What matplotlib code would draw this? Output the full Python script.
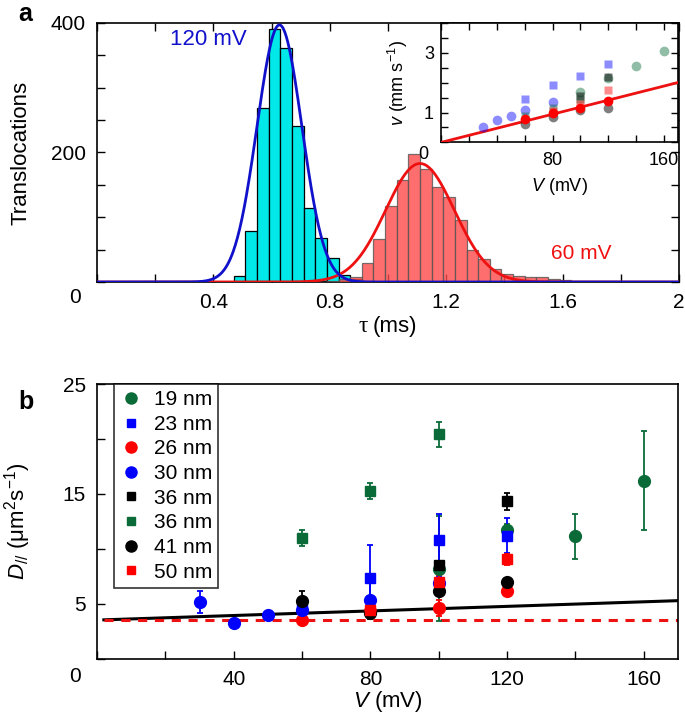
import numpy as np
import matplotlib
matplotlib.use('Agg')
import matplotlib.pyplot as plt
from matplotlib.lines import Line2D
from matplotlib.ticker import MultipleLocator, FixedLocator

plt.rcParams['font.family'] = ['Liberation Sans', 'DejaVu Sans']
plt.rcParams['mathtext.fontset'] = 'custom'
plt.rcParams['mathtext.rm'] = 'Liberation Sans'
plt.rcParams['mathtext.it'] = 'Liberation Sans:italic'

# ---- panel a: dwell time histograms (bin width 0.04 ms) ----
bin_w = 0.04
left_120 = [0.47, 0.51, 0.55, 0.59, 0.63, 0.67, 0.71, 0.75, 0.79, 0.83, 0.87]
count_120 = [9, 79, 268, 390, 361, 241, 115, 68, 37, 11, 4]
left_60 = [0.79, 0.83, 0.87, 0.91, 0.95, 0.99, 1.03, 1.07, 1.11, 1.15, 1.19, 1.23, 1.27,
           1.31, 1.35, 1.39, 1.43, 1.47, 1.51, 1.55, 1.59, 1.63, 1.67, 1.71, 1.75]
count_60 = [2, 5, 8, 30, 66, 118, 157, 198, 175, 147, 131, 96, 49,
            35, 20, 12, 9, 8, 7, 4, 3, 2, 2, 1, 1]
# gaussian fits: (amplitude, centre, width)
fit_120 = (397, 0.627, 0.077)
fit_60 = (183, 1.11, 0.118)

# inset: velocity vs voltage
ins_series = {
    '19 nm':  ([100, 120, 140, 160], [1.68, 2.15, 2.55, 3.05]),
    '23 nm':  ([60, 80, 100, 120], [1.46, 1.92, 2.22, 2.64]),
    '30 nm':  ([30, 40, 50, 60, 80], [0.50, 0.75, 0.90, 1.09, 1.37]),
    '36 nm g': ([60, 80, 100], [0.90, 1.15, 1.47]),
    '36 nm k': ([100, 120], [1.55, 2.20]),
    '41 nm':  ([60, 80, 100, 120], [0.62, 0.85, 1.08, 1.14]),
    '50 nm':  ([80, 100, 120], [1.05, 1.30, 1.77]),
    '26 nm':  ([60, 80, 100, 120], [0.78, 0.99, 1.14, 1.39]),
}
ins_fit_slope = 0.0118

# ---- panel b: diffusion coefficient vs voltage ----
labels_b = ['19 nm', '23 nm', '26 nm', '30 nm', '36 nm', '36 nm', '41 nm', '50 nm']
colors_b = ['#0b6b38', '#0000ff', '#ff0000', '#0000ff', '#000000', '#0b6b38', '#000000', '#ff0000']
markers_b = ['o', 's', 'o', 'o', 's', 's', 'o', 's']
V_b = [[100, 120, 140, 160],
       [60, 80, 100, 120],
       [60, 80, 100, 120],
       [30, 40, 50, 60, 80, 100],
       [100, 120],
       [60, 80, 100],
       [60, 80, 100, 120],
       [80, 100, 120]]
D_b = [[8.18, 11.67, 11.12, 16.18],
       [4.5, 7.33, 10.82, 11.2],
       [3.55, 4.3, 4.6, 6.12],
       [5.15, 3.24, 4.0, 4.4, 5.36, 6.88],
       [8.48, 14.3],
       [10.97, 15.25, 20.43],
       [5.27, 4.1, 6.12, 6.97],
       [4.4, 7.0, 9.06]]
err_b = [[4.8, 0.6, 2.06, 4.5],
         [0.3, 3.0, 2.3, 1.6],
         [0.2, 0.4, 0.7, 0.2],
         [1.0, 0.2, 0.35, 0.5, 1.6, 0.6],
         [0.4, 0.75],
         [0.75, 0.7, 1.15],
         [0.85, 0.5, 0.3, 0.3],
         [0.6, 0.6, 0.5]]
bulk_D = 3.5
fit_D_slope = 0.0104

W, H = 685, 720
fig = plt.figure(figsize=(W / 100, H / 100), dpi=100)

def box(l, t, r, b):
    return [l / W, 1 - b / H, (r - l) / W, (b - t) / H]

fs = 15

# ================= panel a =================
ax = fig.add_axes(box(97, 23, 679, 282))
ax.bar(left_120, count_120, width=bin_w, align='edge', color='#00e8e8',
       edgecolor='black', linewidth=0.9, zorder=2)
ax.bar(left_60, count_60, width=bin_w, align='edge', color='#ff4a4a', alpha=0.8,
       edgecolor='#555555', linewidth=0.9, zorder=3)
t = np.linspace(0, 2, 800)
for (a, m, s), c in [(fit_60, '#ee1111'), (fit_120, '#1111cc')]:
    ax.plot(t, a * np.exp(-0.5 * ((t - m) / s) ** 2), color=c, lw=2, zorder=4)
ax.set_xlim(0, 2)
ax.set_ylim(0, 400)
ax.xaxis.set_major_locator(FixedLocator([0.4, 0.8, 1.2, 1.6, 2.0]))
ax.set_xticklabels(['0.4', '0.8', '1.2', '1.6', '2'])
ax.xaxis.set_minor_locator(MultipleLocator(0.2))
ax.yaxis.set_major_locator(FixedLocator([200, 400]))
ax.yaxis.set_minor_locator(MultipleLocator(50))
ax.tick_params(which='both', direction='in', top=True, right=True, length=6,
               width=1, labelsize=fs, pad=8)
ax.text(-0.028, -0.06, '0', transform=ax.transAxes, fontsize=fs, ha='right', va='center')
ax.set_ylabel('Translocations', fontsize=16)
ax.yaxis.set_label_coords(-0.113, 0.5)
# x label: serif tau followed by sans units
ax.text(0.466, -0.193, 'τ', transform=ax.transAxes, fontsize=17, ha='right',
        va='baseline', family='Liberation Serif')
ax.text(0.474, -0.193, '(ms)', transform=ax.transAxes, fontsize=16, ha='left',
        va='baseline')
ax.text(0.125, 0.915, '120 mV', transform=ax.transAxes, color='#1111cc', fontsize=16)
ax.text(0.78, 0.09, '60 mV', transform=ax.transAxes, color='#ee1111', fontsize=15)
for sp in ax.spines.values():
    sp.set_linewidth(1.2)
fig.text(18 / W, 1 - 14 / H, 'a', fontsize=18, fontweight='bold', va='center')

# ---- inset ----
ins = fig.add_axes(box(441, 23, 678, 142.4))
ins_style = {
    '19 nm': ('#0b6b38', 'o', 0.45), '23 nm': ('#0000ff', 's', 0.45),
    '30 nm': ('#0000ff', 'o', 0.45), '36 nm g': ('#0b6b38', 's', 0.45),
    '36 nm k': ('#000000', 's', 0.5), '41 nm': ('#000000', 'o', 0.5),
    '50 nm': ('#ff0000', 's', 0.45), '26 nm': ('#ff0000', 'o', 1.0),
}
vv = np.array([0, 170])
ins.plot(vv, ins_fit_slope * vv, color='#ee1111', lw=2, zorder=3)
for k, (xs, ys) in ins_series.items():
    c, mk, al = ins_style[k]
    ins.plot(xs, ys, ls='none', marker=mk, color=c, alpha=al, mec='none',
             ms=7 if mk == 'o' else 5.5, zorder=4)
ins.set_xlim(0, 170)
ins.set_ylim(0, 4)
ins.xaxis.set_major_locator(FixedLocator([80, 160]))
ins.xaxis.set_minor_locator(MultipleLocator(20))
ins.yaxis.set_major_locator(FixedLocator([1, 3]))
ins.yaxis.set_minor_locator(MultipleLocator(0.5))
ins.tick_params(which='both', direction='in', top=True, right=True, length=5,
                width=1, labelsize=13)
ins.tick_params(axis='x', pad=7)
ins.tick_params(axis='y', pad=5)
ins.text(-0.055, -0.1, '0', transform=ins.transAxes, fontsize=13, ha='right', va='center')
ins.set_ylabel(r'$v$ (mm s$^{-1}$)', fontsize=13)
ins.yaxis.set_label_coords(-0.13, 0.5)
ins.set_xlabel(r'$V$ (mV)', fontsize=13)
ins.xaxis.set_label_coords(0.5, -0.28)
for sp in ins.spines.values():
    sp.set_linewidth(1.2)

# ================= panel b =================
bx = fig.add_axes(box(97, 384, 678, 658.5))
xx = np.array([2, 170])
bx.plot(xx, bulk_D + fit_D_slope * xx, color='black', lw=2.2, zorder=2)
bx.plot(xx, [bulk_D, bulk_D], color='#ee1111', lw=2.2, ls=(0, (3, 2.5)), zorder=2)
handles = []
for lab, c, mk, xs, ys, es in zip(labels_b, colors_b, markers_b, V_b, D_b, err_b):
    bx.errorbar(xs, ys, yerr=es, fmt=mk, color=c, ecolor=c, elinewidth=1.3,
                capsize=2.5, capthick=1.3, ms=8.5 if mk == 'o' else 6.5, mec=c, zorder=3)
    handles.append(Line2D([], [], ls='none', marker=mk, color=c,
                          ms=8 if mk == 'o' else 6))
bx.set_xlim(0, 170)
bx.set_ylim(0, 25)
bx.xaxis.set_major_locator(FixedLocator([40, 80, 120, 160]))
bx.xaxis.set_minor_locator(MultipleLocator(20))
bx.yaxis.set_major_locator(FixedLocator([5, 15, 25]))
bx.yaxis.set_minor_locator(MultipleLocator(5))
bx.tick_params(which='both', direction='in', length=6, width=1, labelsize=fs, pad=8)
bx.text(-0.028, -0.067, '0', transform=bx.transAxes, fontsize=fs, ha='right', va='center')
bx.set_ylabel(r'$D_{//}$ ($\mathrm{\mu}$m$^{2}$s$^{-1}$)', fontsize=16)
bx.yaxis.set_label_coords(-0.11, 0.5)
bx.set_xlabel(r'$V$ (mV)', fontsize=16)
bx.xaxis.set_label_coords(0.5, -0.11)
leg = bx.legend(handles, labels_b, loc='upper left', bbox_to_anchor=(17 / 581, 1.0),
                borderaxespad=0, fontsize=fs, frameon=True, fancybox=False,
                labelspacing=0.27, handlelength=1.0, handletextpad=0.6,
                borderpad=0.3)
leg.get_frame().set_edgecolor('black')
leg.get_frame().set_linewidth(1.2)
for sp in bx.spines.values():
    sp.set_linewidth(1.2)
fig.text(18 / W, 1 - 402 / H, 'b', fontsize=18, fontweight='bold', va='center')

fig.savefig('out.png', dpi=100)
